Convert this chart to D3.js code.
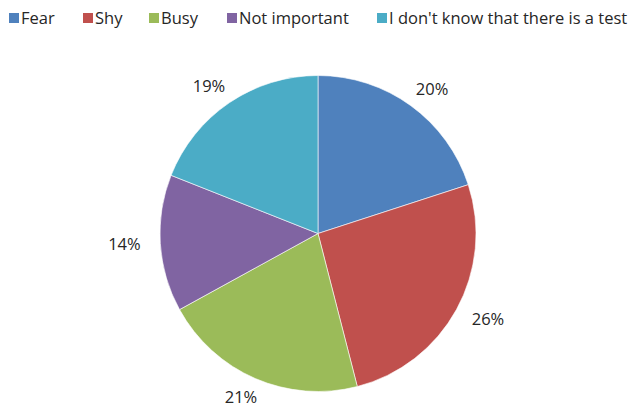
<!DOCTYPE html>
<html lang="en">
<head>
    <meta charset="UTF-8">
    <title>Reasons for not testing</title>
    <script src="https://d3js.org/d3.v7.min.js"></script>
    <style>
        body { margin: 0; background: #fff; }
        text { font-family: "Open Sans", "Noto Sans", sans-serif; fill: #262626; }
    </style>
</head>
<body>
<div id="chart"></div>
<script>

    // data
    var categories = ["Fear", "Shy", "Busy", "Not important", "I don't know that there is a test"];
    var values = [20, 26, 21, 14, 19];
    var colors = ["#4F81BD", "#C0504D", "#9BBB59", "#8064A2", "#4BACC6"];

    var width = 633, height = 407;
    var cx = 318, cy = 233.5, radius = 158;

    var svg = d3.select("#chart")
        .append("svg")
        .attr("width", width)
        .attr("height", height);

    // legend along the top
    var legendX = [9, 83, 149, 227, 377];
    var legend = svg.append("g");
    categories.forEach(function (c, i) {
        var g = legend.append("g").attr("transform", "translate(" + legendX[i] + ",0)");
        g.append("rect")
            .attr("x", 0).attr("y", 13)
            .attr("width", 10).attr("height", 10)
            .attr("fill", colors[i]);
        g.append("text")
            .attr("x", 12).attr("y", 23.5)
            .style("font-size", "16.5px")
            .text(c);
    });

    var pie = d3.pie().sort(null).value(function (d) { return d; });
    var arcs = pie(values);

    var arc = d3.arc().innerRadius(0).outerRadius(radius);

    var g = svg.append("g")
        .attr("transform", "translate(" + cx + "," + cy + ")");

    g.selectAll("path")
        .data(arcs)
        .enter()
        .append("path")
        .attr("d", arc)
        .attr("fill", function (d, i) { return colors[i]; })
        .attr("stroke", "#fff")
        .attr("stroke-width", 0.6);

    // outside labels: wider offset sideways than up/down, like the label boxes
    function labelPos(d) {
        var a = (d.startAngle + d.endAngle) / 2;
        return [Math.sin(a) * 194, -Math.cos(a) * 178];
    }

    g.selectAll("text.pct")
        .data(arcs)
        .enter()
        .append("text")
        .attr("class", "pct")
        .attr("transform", function (d) { return "translate(" + labelPos(d) + ")"; })
        .attr("text-anchor", "middle")
        .attr("dy", "0.35em")
        .style("font-size", "16.5px")
        .text(function (d) { return d.data + "%"; });

</script>
</body>
</html>
